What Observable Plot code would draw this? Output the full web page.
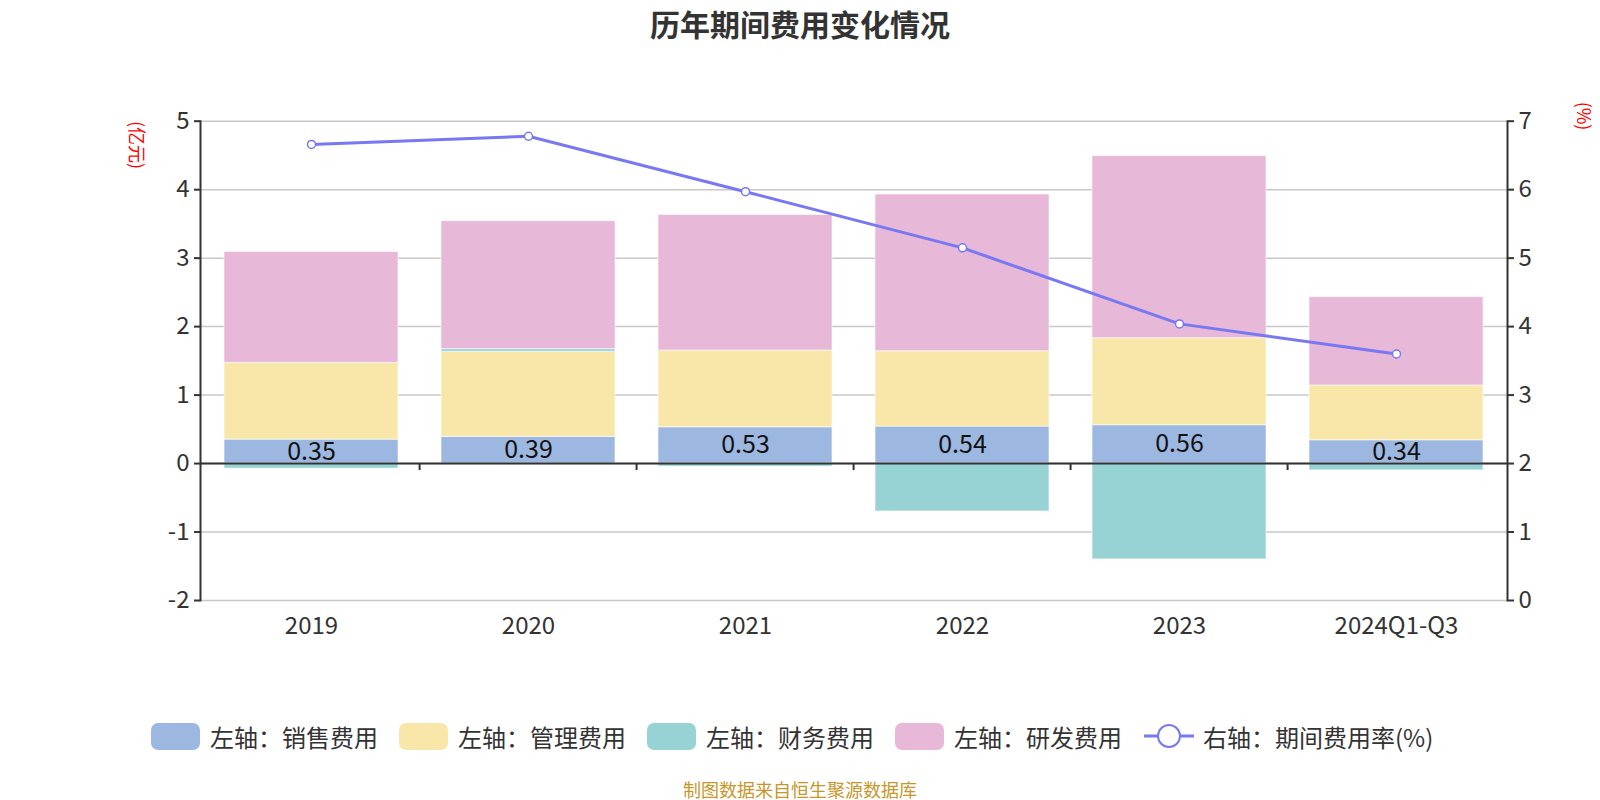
<!DOCTYPE html>
<html>
<head>
<meta charset="utf-8">
<script src="https://cdn.jsdelivr.net/npm/d3@7"></script>
<script src="https://cdn.jsdelivr.net/npm/@observablehq/plot@0.6"></script>
<style>
  html, body { margin: 0; padding: 0; background: #fff; }
  body { width: 1600px; height: 800px; position: relative; overflow: hidden;
         font-family: "Noto Sans CJK SC", "Noto Sans", sans-serif; }
  #title { position: absolute; left: 0; top: 0; width: 1600px; height: 46px; line-height: 46px;
           text-align: center; font-size: 30px; font-weight: bold; color: #333; }
  #chart { position: absolute; left: 0; top: 60px; }
  #legend { position: absolute; left: 0; top: 720px; width: 1600px; height: 32px; }
  .item { position: absolute; top: 0; height: 32px; display: flex; align-items: center;
          font-size: 24px; color: #333; white-space: nowrap; }
  .sw { width: 49px; height: 27px; border-radius: 7px; margin-right: 10px; }
  #caption { position: absolute; left: 0; top: 777px; width: 1600px; text-align: center;
             font-size: 18px; color: #c8962a; line-height: 24px; }
  .unit { position: absolute; color: #ff0000; font-size: 18px; line-height: 20px; white-space: nowrap; }
</style>
</head>
<body>
<div id="title">历年期间费用变化情况</div>
<div id="chart"></div>
<div id="legend"></div>
<div id="caption">制图数据来自恒生聚源数据库</div>
<div class="unit" id="uL">(亿元)</div>
<div class="unit" id="uR">(%)</div>
<script>
// ---- data ----
const categories = ["2019", "2020", "2021", "2022", "2023", "2024Q1-Q3"];
const sales   = [0.35, 0.39, 0.53, 0.54, 0.56, 0.34];   // 销售费用
const admin   = [1.12, 1.24, 1.12, 1.10, 1.27, 0.80];   // 管理费用
const finance = [-0.075, 0.04, -0.045, -0.70, -1.40, -0.10]; // 财务费用
const rnd     = [1.62, 1.87, 1.98, 2.29, 2.66, 1.29];   // 研发费用
const rate    = [6.66, 6.78, 5.97, 5.15, 4.04, 3.60];   // 期间费用率(%)
const leftTicks  = [-2, -1, 0, 1, 2, 3, 4, 5];
const rightTicks = [0, 1, 2, 3, 4, 5, 6, 7];
const seriesNames = ["左轴：销售费用", "左轴：管理费用", "左轴：财务费用", "左轴：研发费用"];
const lineName = "右轴：期间费用率(%)";
const colors = ["#9cb8e1", "#f8e7a9", "#97d3d4", "#e7b8d7"];
const lineColor = "#7878f2";

// ---- build stacked table (positives stack on positives, negatives on negatives) ----
const seriesVals = [sales, admin, finance, rnd];
const rects = [];
categories.forEach((c, i) => {
  let pos = 0, neg = 0;
  seriesVals.forEach((arr, s) => {
    const v = arr[i];
    if (v >= 0) { rects.push({c, s, y1: pos, y2: pos + v}); pos += v; }
    else { rects.push({c, s, y1: neg + v, y2: neg}); neg += v; }
  });
});
const labels = categories.map((c, i) => ({c, y: sales[i] / 2, t: sales[i].toFixed(2)}));
// right axis (0..7) mapped onto left (-2..5)
const offset = rightTicks[0] - leftTicks[0];
const linePts = categories.map((c, i) => ({c, y: rate[i] - offset}));

const W = 1600, H = 600;
const mL = 200, mR = 93, mT = 60.7, mB = 60;
const step = (W - mL - mR) / categories.length;

const chart = Plot.plot({
  width: W, height: H,
  marginLeft: mL, marginRight: mR, marginTop: mT, marginBottom: mB,
  style: {fontFamily: "'Noto Sans CJK SC', 'Noto Sans', sans-serif", background: "#fff", overflow: "visible"},
  x: {domain: categories, paddingInner: 0.2, paddingOuter: 0.1, label: null},
  y: {domain: [leftTicks[0], leftTicks[leftTicks.length - 1]], label: null},
  marks: [
    Plot.gridY(leftTicks, {stroke: "#c8c8c8", strokeOpacity: 1, strokeWidth: 1.5}),
    Plot.rectY(rects, {x: "c", y1: "y1", y2: "y2", fill: d => colors[d.s], stroke: "#ffffff", strokeOpacity: 0.6, strokeWidth: 1}),
    Plot.ruleY([0], {stroke: "#333", strokeWidth: 2}),
    Plot.ruleX(categories.slice(1), {x: d => d, dx: -step / 2, y1: 0, y2: 0, insetBottom: -7, stroke: "#333", strokeWidth: 2}),
    Plot.text(labels, {x: "c", y: "y", text: "t", fontSize: 25, fill: "#111"}),
    Plot.line(linePts, {x: "c", y: "y", stroke: lineColor, strokeWidth: 3}),
    Plot.dot(linePts, {x: "c", y: "y", r: 4, fill: "#fff", stroke: lineColor, strokeWidth: 1.5}),
    Plot.frame({anchor: "left", stroke: "#333", strokeWidth: 2}),
    Plot.frame({anchor: "right", stroke: "#333", strokeWidth: 2}),
    Plot.axisY(leftTicks, {anchor: "left", tickSize: 6, tickPadding: 5, fontSize: 24, stroke: "#333", strokeWidth: 2, color: "#333", tickFormat: d => String(d), label: null}),
    Plot.axisY(rightTicks.map(d => d - offset), {anchor: "right", tickSize: 6, tickPadding: 5, fontSize: 24, stroke: "#333", strokeWidth: 2, color: "#333", tickFormat: d => String(d + offset), label: null}),
    Plot.axisX({tickSize: 0, tickPadding: 16, fontSize: 24, color: "#333", label: null})
  ]
});
document.getElementById("chart").appendChild(chart);

// unit labels (rotated, centred on given points)
function placeUnit(id, cx, cy) {
  const el = document.getElementById(id);
  const w = el.offsetWidth, h = el.offsetHeight;
  el.style.left = (cx - w / 2) + "px";
  el.style.top = (cy - h / 2) + "px";
  el.style.transform = "rotate(90deg)";
}
placeUnit("uL", 138, 145);
placeUnit("uR", 1585, 116);

// legend
const legend = document.getElementById("legend");
const lefts = [151, 399, 647, 895];
seriesNames.forEach((n, i) => {
  const d = document.createElement("div");
  d.className = "item"; d.style.left = lefts[i] + "px";
  d.innerHTML = `<div class="sw" style="background:${colors[i]}"></div><span>${n}</span>`;
  legend.appendChild(d);
});
const li = document.createElement("div");
li.className = "item"; li.style.left = "1144px";
li.innerHTML = `<svg width="50" height="30" style="margin-right:9px"><line x1="0" y1="15" x2="50" y2="15" stroke="${lineColor}" stroke-width="3"/><circle cx="25" cy="15" r="11" fill="#fff" stroke="${lineColor}" stroke-width="2"/></svg><span>${lineName}</span>`;
legend.appendChild(li);
</script>
</body>
</html>
